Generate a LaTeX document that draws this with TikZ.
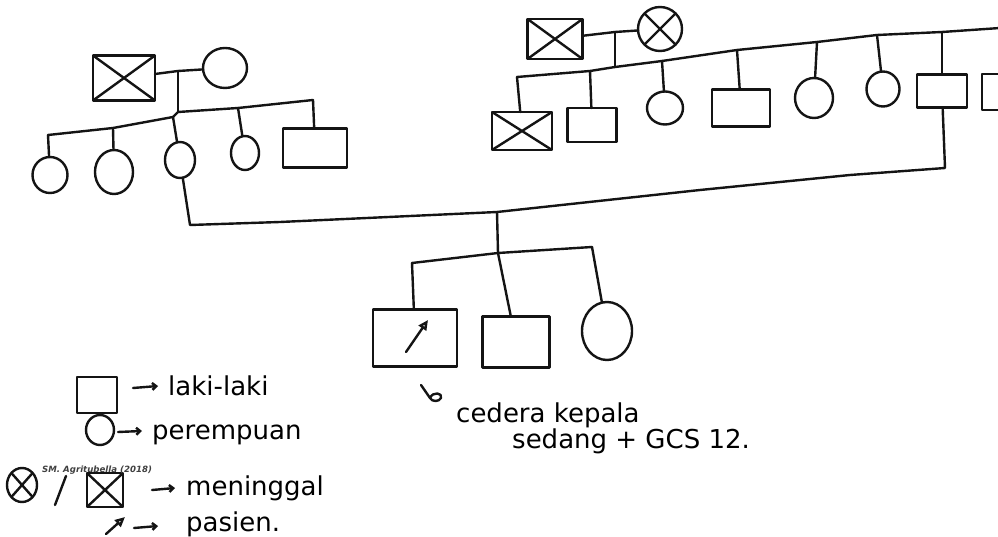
\documentclass[tikz,border=0pt]{standalone}
\usepackage{fontspec}
\setmainfont{DejaVu Sans}
\usetikzlibrary{shapes.geometric,arrows.meta}
\tikzset{
  x=1pt, y=-1pt,
  ink/.style={line width=2.4pt, draw=black!92, line cap=round, line join=round},
  person/.style={ink, inner sep=0pt, outer sep=0pt},
  male/.style={person, rectangle},
  female/.style={person, ellipse},
  sz/.style 2 args={minimum width=#1, minimum height=#2},
  deceased/.style={path picture={
      \draw[ink] (path picture bounding box.north west) -- (path picture bounding box.south east)
                 (path picture bounding box.north east) -- (path picture bounding box.south west);}},
  link/.style={ink},
  pointer/.style={ink, -{Straight Barb[length=4pt,width=7pt]}},
  patientmark/.style={ink, -{Triangle[open,length=10pt,width=9pt]}},
  note/.style={anchor=base west, inner sep=0pt, font=\fontsize{26}{30}\selectfont},
  credit/.style={anchor=base west, inner sep=0pt, font=\fontsize{8.6}{10}\selectfont\itshape\bfseries, text=black!75},
}
\begin{document}
\begin{tikzpicture}
\clip (0,0) rectangle (998,537);
\fill[white] (0,0) rectangle (998,537);

% ---------- mother's side ----------
\node[male, deceased, sz={62}{45}] (lgf) at (124,78) {};
\node[female, sz={44}{40}] (lgm) at (225,68) {};
\coordinate (lm) at (178,71);
\coordinate (lj) at (178,112);
\coordinate (l1) at (48,135);
\coordinate (l2) at (113,128);
\coordinate (l3) at (173,117);
\coordinate (l4) at (238,108);
\coordinate (l5) at (313,100);

\node[female, sz={35}{36}] (lc1) at (50,175) {};
\node[female, sz={38}{44}] (lc2) at (114,172) {};
\node[female, sz={30}{36}] (lc3) at (180,160) {};
\node[female, sz={28}{34}] (lc4) at (245,153) {};
\node[male,   sz={64}{39}] (lc5) at (315,148) {};

\draw[link] (lgf) -- (lm) -- (lgm);
\draw[link] (lm) -- (lj);
\draw[link] (l1) -- (l2) -- (l3) -- (lj) -- (l4) -- (l5);
\draw[link] (l1) -- (lc1);
\draw[link] (l2) -- (lc2);
\draw[link] (l3) -- (lc3);
\draw[link] (l4) -- (lc4);
\draw[link] (l5) -- (lc5);

% ---------- father's side ----------
\node[male, deceased, sz={55}{40}] (rgf) at (555,39) {};
\node[female, deceased, sz={44}{44}] (rgm) at (660,29) {};
\coordinate (rm) at (615,32);
\coordinate (rj) at (615,67);
\coordinate (r1) at (517,77);
\coordinate (r2) at (590,71);
\coordinate (r3) at (662,61);
\coordinate (r4) at (737,50);
\coordinate (r5) at (817,42);
\coordinate (r6) at (877,35);
\coordinate (r7) at (942,32);
\coordinate (r8) at (1000,28);

\node[male, deceased, sz={60}{38}] (rc1) at (522,131) {};
\node[male,   sz={49}{34}] (rc2) at (592,125) {};
\node[female, sz={36}{33}] (rc3) at (665,108) {};
\node[male,   sz={58}{37}] (rc4) at (741,108) {};
\node[female, sz={38}{40}] (rc5) at (814,98) {};
\node[female, sz={33}{35}] (rc6) at (883,89) {};
\node[male,   sz={50}{33}] (rc7) at (942,91) {};
\node[male,   sz={36}{36}] (rc8) at (1000,92) {};

\draw[link] (rgf) -- (rm) -- (rgm);
\draw[link] (rm) -- (rj);
\draw[link] (r1) -- (r2) -- (rj) -- (r3) -- (r4) -- (r5) -- (r6) -- (r7) -- (r8);
\draw[link] (r1) -- (rc1);
\draw[link] (r2) -- (rc2);
\draw[link] (r3) -- (rc3);
\draw[link] (r4) -- (rc4);
\draw[link] (r5) -- (rc5);
\draw[link] (r6) -- (rc6);
\draw[link] (r7) -- (rc7);

% ---------- parents' union ----------
\coordinate (u1) at (190,225);
\coordinate (u2) at (280,222);
\coordinate (uj) at (497,212);
\coordinate (u3) at (700,190);
\coordinate (u4) at (850,175);
\coordinate (u5) at (945,168);
\draw[link] (lc3) -- (u1) -- (u2) -- (uj) -- (u3) -- (u4) -- (u5) -- (rc7);

% ---------- children ----------
\coordinate (kj) at (498,253);
\coordinate (k1) at (412,263);
\coordinate (k3) at (592,247);
\node[male,   sz={84}{57}] (pat) at (415,338) {};
\node[male,   sz={67}{51}] (kb)  at (516,342) {};
\node[female, sz={50}{58}] (kc)  at (607,331) {};
\draw[link] (uj) -- (kj);
\draw[link] (k1) -- (kj) -- (k3);
\draw[link] (k1) -- (pat);
\draw[link] (kj) -- (kb);
\draw[link] (k3) -- (kc);
\coordinate (pa) at (406,352);
\coordinate (pb) at (428,320);
\draw[patientmark] (pa) -- (pb);

% note on the patient
\coordinate (h1) at (421,385);
\coordinate (h2) at (430,398);
\draw[ink] (h1) -- (h2) .. controls (433,391) and (443,393) .. (441,398)
           .. controls (439,402) and (432,402) .. (h2);
\node[note] (n1) at (456,422) {cedera kepala};
\node[note] (n2) at (512,448) {sedang + GCS 12.};

% ---------- legend ----------
\node[male, sz={40}{36}] (gm) at (97,395) {};
\coordinate (ga1) at (133,388);
\coordinate (ga2) at (158,386);
\draw[pointer] (ga1) -- (ga2);
\node[note] (gt1) at (168,395) {laki-laki};

\node[female, sz={28}{30}] (gf) at (100,430) {};
\coordinate (gb1) at (118,432);
\coordinate (gb2) at (142,431);
\draw[pointer] (gb1) -- (gb2);
\node[note] (gt2) at (152,439) {perempuan};

\node[female, deceased, sz={30}{34}] (gdf) at (22,485) {};
\coordinate (gs1) at (55,505);
\coordinate (gs2) at (66,476);
\draw[ink] (gs1) -- (gs2);
\node[male, deceased, sz={36}{34}] (gdm) at (105,490) {};
\node[credit] (cr) at (42,472) {SM. Agritubella (2018)};
\coordinate (gc1) at (152,490);
\coordinate (gc2) at (175,488);
\draw[pointer] (gc1) -- (gc2);
\node[note] (gt3) at (186,495) {meninggal};

\coordinate (gp1) at (106,534);
\coordinate (gp2) at (125,517);
\draw[patientmark] (gp1) -- (gp2);
\coordinate (gd1) at (134,528);
\coordinate (gd2) at (158,526);
\draw[pointer] (gd1) -- (gd2);
\node[note] (gt4) at (186,531) {pasien.};
\end{tikzpicture}
\end{document}
